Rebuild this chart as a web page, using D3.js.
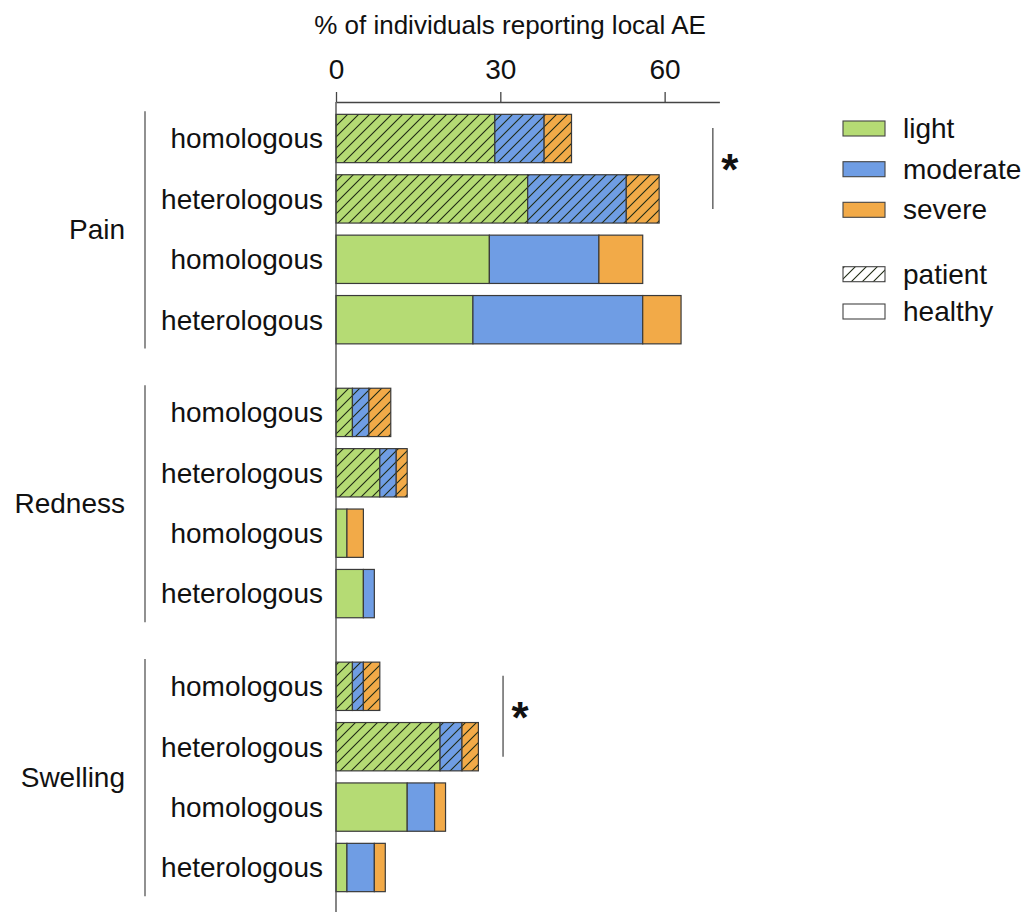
<!DOCTYPE html>
<html>
<head>
<meta charset="utf-8">
<script src="https://cdn.jsdelivr.net/npm/d3@7"></script>
<style>
  html, body { margin: 0; padding: 0; background: #fff; }
  svg { display: block; font-family: "Liberation Sans", Arial, sans-serif; }
</style>
</head>
<body>
<svg id="chart" width="1024" height="912"></svg>
<script>
// Local adverse events by symptom, vaccination scheme and cohort
const groups = ["Pain", "Redness", "Swelling"];
const rowLabels = ["homologous", "heterologous", "homologous", "heterologous"];
const cohorts = ["patient", "patient", "healthy", "healthy"];
const severities = ["light", "moderate", "severe"];

// % of individuals per severity, rows in order: group x rowLabels
const lightValues    = [29, 35, 28, 25,  3, 8, 2, 5,  3, 19, 13, 2];
const moderateValues = [ 9, 18, 20, 31,  3, 3, 0, 2,  2,  4,  5, 5];
const severeValues   = [ 5,  6,  8,  7,  4, 2, 3, 0,  3,  3,  2, 2];

const xTicks = [0, 30, 60];
const axisTitle = "% of individuals reporting local AE";
const cohortLegend = ["patient", "healthy"];

const colors = { light: "#b5db74", moderate: "#6f9de4", severe: "#f2aa48" };

const svg = d3.select("#chart");
const FONT = 28;

// hatch pattern for patient bars
const defs = svg.append("defs");
const pat = defs.append("pattern")
  .attr("id", "hatch")
  .attr("patternUnits", "userSpaceOnUse")
  .attr("width", 11).attr("height", 11);
pat.append("path")
  .attr("d", "M-1,1 L1,-1 M0,11 L11,0 M10,12 L12,10")
  .attr("stroke", "#1e2a14").attr("stroke-width", 1.1);

// scales
const x = d3.scaleLinear().domain([0, 70]).range([336, 719.4]);
const axisY = 102;
const groupH = 241.6, groupGap = 32.3, groupTop = 108.3;

const groupY = d3.scaleBand()
  .domain(groups)
  .range([groupTop, groupTop + 3 * groupH + 2 * groupGap])
  .paddingInner(groupGap / (groupH + groupGap));
// inner row scale inside each group
const rowY = d3.scaleBand()
  .domain(d3.range(rowLabels.length))
  .range([0, groupY.bandwidth()])
  .paddingInner(0.2).paddingOuter(0.1);

// rows table built from the arrays
const rows = [];
groups.forEach((g, gi) => {
  rowLabels.forEach((lab, ri) => {
    const k = gi * rowLabels.length + ri;
    rows.push({
      group: g, row: ri, label: lab, cohort: cohorts[ri],
      light: lightValues[k], moderate: moderateValues[k], severe: severeValues[k]
    });
  });
});
const rowTop = d => groupY(d.group) + rowY(d.row);

const stacked = d3.stack().keys(severities)(rows);

// bars
const barG = svg.append("g");
stacked.forEach(layer => {
  const key = layer.key;
  const sel = barG.selectAll(null).data(layer.filter(s => s[1] - s[0] > 0)).enter();
  sel.append("rect")
    .attr("x", s => x(s[0]))
    .attr("y", s => rowTop(s.data))
    .attr("width", s => x(s[1]) - x(s[0]))
    .attr("height", rowY.bandwidth())
    .attr("fill", colors[key]);
  sel.filter(s => s.data.cohort === "patient").append("rect")
    .attr("x", s => x(s[0]))
    .attr("y", s => rowTop(s.data))
    .attr("width", s => x(s[1]) - x(s[0]))
    .attr("height", rowY.bandwidth())
    .attr("fill", "url(#hatch)");
  sel.append("rect")
    .attr("x", s => x(s[0]))
    .attr("y", s => rowTop(s.data))
    .attr("width", s => x(s[1]) - x(s[0]))
    .attr("height", rowY.bandwidth())
    .attr("fill", "none")
    .attr("stroke", "#3a3a3a").attr("stroke-width", 1.2);
});

// top axis
const axis = d3.axisTop(x).tickValues(xTicks).tickSize(10).tickSizeOuter(0).tickPadding(13);
const axG = svg.append("g").attr("transform", `translate(0,${axisY})`).call(axis);
axG.select(".domain").attr("stroke", "#444").attr("stroke-width", 1.3);
axG.selectAll(".tick line").attr("stroke", "#444").attr("stroke-width", 1.3);
axG.selectAll(".tick text")
  .attr("font-size", 28).attr("fill", "#111")
  .attr("font-family", "Liberation Sans, Arial, sans-serif");

svg.append("text")
  .attr("x", 510).attr("y", 34)
  .attr("text-anchor", "middle")
  .attr("font-size", 26).attr("fill", "#111")
  .text(axisTitle);

// vertical value axis line
svg.append("line")
  .attr("x1", x(0)).attr("x2", x(0))
  .attr("y1", axisY).attr("y2", 912)
  .attr("stroke", "#444").attr("stroke-width", 1.3);

// row labels
svg.append("g").selectAll("text").data(rows).enter().append("text")
  .attr("x", 323)
  .attr("y", d => rowTop(d) + rowY.bandwidth() / 2)
  .attr("dy", "0.35em")
  .attr("text-anchor", "end")
  .attr("font-size", FONT).attr("fill", "#111")
  .text(d => d.label);

// group brackets and labels
const gg = svg.append("g").selectAll("g").data(groups).enter().append("g");
gg.append("line")
  .attr("x1", 145).attr("x2", 145)
  .attr("y1", g => groupY(g) + 3)
  .attr("y2", g => groupY(g) + groupY.bandwidth() - 1.5)
  .attr("stroke", "#555").attr("stroke-width", 1.3);
gg.append("text")
  .attr("x", 125)
  .attr("y", g => groupY(g) + groupY.bandwidth() / 2)
  .attr("dy", "0.35em")
  .attr("text-anchor", "end")
  .attr("font-size", FONT).attr("fill", "#111")
  .text(g => g);

// significance markers between the two patient rows
const sig = [
  { group: "Pain", at: 68.8 },
  { group: "Swelling", at: 30.5 }
];
sig.forEach(s => {
  const r0 = rows.find(d => d.group === s.group && d.row === 0);
  const r1 = rows.find(d => d.group === s.group && d.row === 1);
  const c0 = rowTop(r0) + rowY.bandwidth() / 2;
  const c1 = rowTop(r1) + rowY.bandwidth() / 2;
  svg.append("line")
    .attr("x1", x(s.at)).attr("x2", x(s.at))
    .attr("y1", c0 - 10.5).attr("y2", c1 + 10)
    .attr("stroke", "#666").attr("stroke-width", 1.5);
  svg.append("text")
    .attr("x", x(s.at) + 17)
    .attr("y", (c0 + c1) / 2 + 16)
    .attr("text-anchor", "middle")
    .attr("font-size", 44).attr("font-weight", "bold").attr("fill", "#111")
    .text("*");
});

// legend
const leg = svg.append("g");
const sevY = [121, 161.7, 202.3];
severities.forEach((k, i) => {
  leg.append("rect")
    .attr("x", 843).attr("y", sevY[i]).attr("width", 42).attr("height", 15)
    .attr("fill", colors[k]).attr("stroke", "#444").attr("stroke-width", 1.1);
  leg.append("text")
    .attr("x", 903).attr("y", sevY[i] + 7).attr("dy", "0.35em")
    .attr("font-size", FONT).attr("fill", "#111").text(k);
});
const cohY = [266.7, 304];
cohortLegend.forEach((k, i) => {
  leg.append("rect")
    .attr("x", 843).attr("y", cohY[i]).attr("width", 42).attr("height", 15)
    .attr("fill", k === "patient" ? "url(#hatch)" : "#fff")
    .attr("stroke", "#444").attr("stroke-width", 1.1);
  leg.append("text")
    .attr("x", 903).attr("y", cohY[i] + 7).attr("dy", "0.35em")
    .attr("font-size", FONT).attr("fill", "#111").text(k);
});
</script>
</body>
</html>
